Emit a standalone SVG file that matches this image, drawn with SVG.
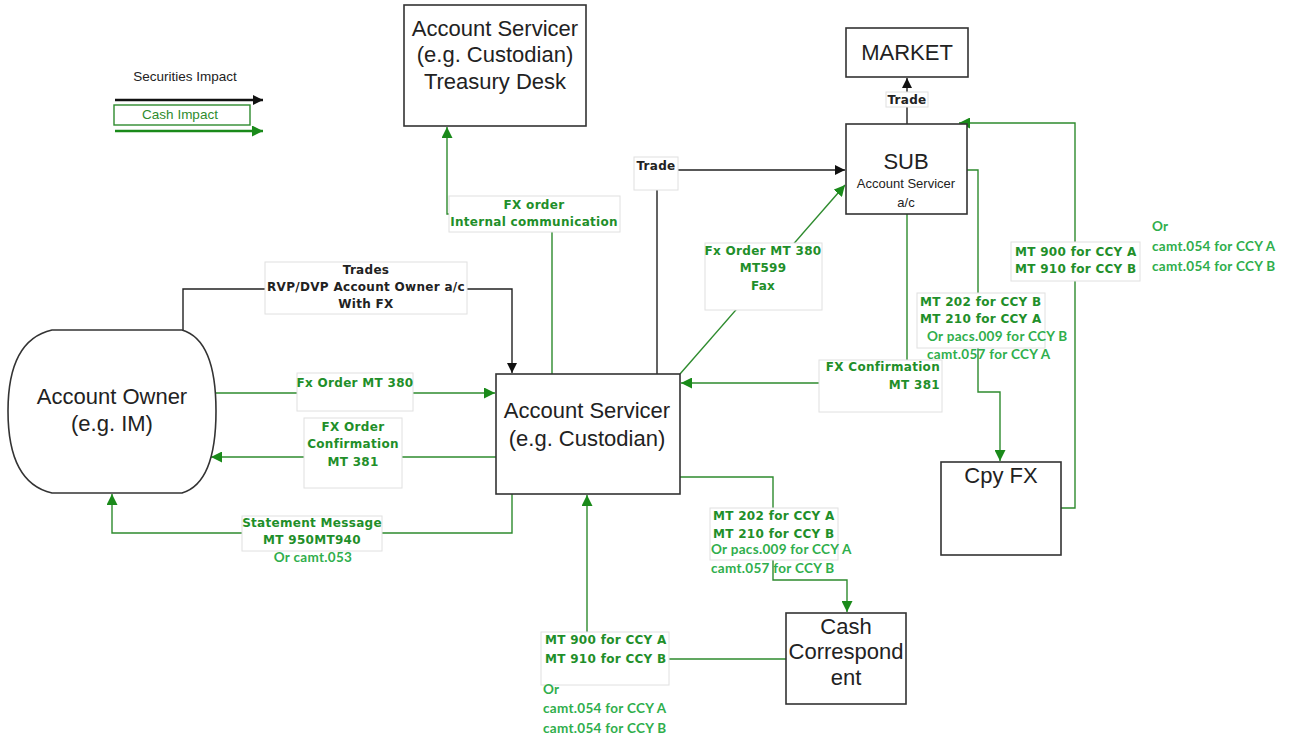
<svg xmlns="http://www.w3.org/2000/svg" width="1289" height="742" viewBox="0 0 1289 742">
  <style>
    .node { fill: #fff; stroke: #333; stroke-width: 1.6; }
    .big { font-family: "Liberation Sans", Arial, sans-serif; font-size: 22px; fill: #222; text-anchor: middle; }
    .sec { fill: none; stroke: #222; stroke-width: 1.4; }
    .cash { fill: none; stroke: #2e8b2e; stroke-width: 1.4; }
    .lbox { fill: #fff; stroke: #e0e0e0; stroke-width: 1; }
    .lb { font-family: "DejaVu Sans", Verdana, sans-serif; font-size: 12px; font-weight: bold; letter-spacing: 0.3px; text-anchor: middle; }
    .lb.st { text-anchor: start; }
    .lb.en { text-anchor: end; }
    .lk { fill: #222; }
    .lg { fill: #1f8f2a; }
    .alt { font-family: Lato, "Liberation Sans", sans-serif; font-size: 13.5px; font-weight: bold; letter-spacing: 0.3px; fill: #2fae4c; }
    .leg { font-family: "Liberation Sans", Arial, sans-serif; font-size: 13.5px; text-anchor: middle; }
  </style>
  <defs>
    <marker id="ak" viewBox="0 0 10 10" refX="10" refY="5" markerWidth="10" markerHeight="10" markerUnits="userSpaceOnUse" orient="auto">
      <path d="M0,0 L10,5 L0,10 Z" fill="#111"/>
    </marker>
    <marker id="ag" viewBox="0 0 10 10" refX="10" refY="5" markerWidth="11" markerHeight="11" markerUnits="userSpaceOnUse" orient="auto">
      <path d="M0,0 L10,5 L0,10 Z" fill="#1a8a1a"/>
    </marker>
  </defs>
  <rect width="1289" height="742" fill="#fff"/>

  <!-- legend -->
  <g id="legend">
    <text class="leg" x="185" y="81" fill="#222">Securities Impact</text>
    <line x1="115" y1="100" x2="263" y2="100" stroke="#111" stroke-width="2.5" marker-end="url(#ak)"/>
    <rect x="114" y="105" width="136" height="20" fill="#fff" stroke="#2e8b2e" stroke-width="1.4"/>
    <text class="leg" x="180" y="119" fill="#2e8b2e">Cash Impact</text>
    <line x1="115" y1="131" x2="263" y2="131" stroke="#1a8a1a" stroke-width="2.5" marker-end="url(#ag)"/>
  </g>

  <!-- connectors -->
  <g id="connectors">
    <path class="sec" d="M183,330 V289 H512 V373" marker-end="url(#ak)"/>
    <path class="cash" d="M216,393 H495" marker-end="url(#ag)"/>
    <path class="cash" d="M496,457 H211" marker-end="url(#ag)"/>
    <path class="cash" d="M512,494 V533 H112 V494" marker-end="url(#ag)"/>
    <path class="cash" d="M552,374 V214 H447 V127" marker-end="url(#ag)"/>
    <path class="sec" d="M657,374 V170 H845" marker-end="url(#ak)"/>
    <path class="cash" d="M680,374 L845,185" marker-end="url(#ag)"/>
    <path class="sec" d="M907,124 V78" marker-end="url(#ak)"/>
    <path class="cash" d="M907,214 V383 H681" marker-end="url(#ag)"/>
    <path class="cash" d="M967,170 H978 V392 H1000 V461" marker-end="url(#ag)"/>
    <path class="cash" d="M1061,508 H1075 V123 H959" marker-end="url(#ag)"/>
    <path class="cash" d="M680,477 H773 V580 H847 V612" marker-end="url(#ag)"/>
    <path class="cash" d="M786,659 H669 M587,632 V495" marker-end="url(#ag)"/>
  </g>

  <!-- connector labels -->
  <g id="labels">
    <rect class="lbox" x="265" y="262" width="202" height="52"/>
    <text class="lb lk" x="366" y="274">Trades</text>
    <text class="lb lk" x="366" y="291">RVP/DVP Account Owner a/c</text>
    <text class="lb lk" x="366" y="308">With FX</text>

    <rect class="lbox" x="297" y="373" width="116" height="38"/>
    <text class="lb lg" x="355" y="387">Fx Order MT 380</text>

    <rect class="lbox" x="304" y="418" width="98" height="70"/>
    <text class="lb lg" x="353" y="431">FX Order</text>
    <text class="lb lg" x="353" y="448">Confirmation</text>
    <text class="lb lg" x="353" y="466">MT 381</text>

    <rect class="lbox" x="242" y="516" width="140" height="35"/>
    <text class="lb lg" x="312" y="527">Statement Message</text>
    <text class="lb lg" x="312" y="544">MT 950MT940</text>
    <text class="alt" x="313" y="562" text-anchor="middle">Or camt.053</text>

    <rect class="lbox" x="449" y="196" width="171" height="36"/>
    <text class="lb lg" x="534" y="209">FX order</text>
    <text class="lb lg" x="534" y="226">Internal communication</text>

    <rect class="lbox" x="634" y="157" width="44" height="33"/>
    <text class="lb lk" x="656" y="170">Trade</text>

    <rect class="lbox" x="705" y="243" width="117" height="67"/>
    <text class="lb lg" x="763" y="255">Fx Order MT 380</text>
    <text class="lb lg" x="763" y="272">MT599</text>
    <text class="lb lg" x="763" y="290">Fax</text>

    <rect class="lbox" x="886" y="92" width="42" height="15"/>
    <text class="lb lk" x="907" y="104">Trade</text>

    <rect class="lbox" x="819" y="360" width="123" height="52"/>
    <text class="lb lg en" x="940" y="371">FX  Confirmation</text>
    <text class="lb lg en" x="940" y="389">MT 381</text>

    <rect class="lbox" x="917" y="293" width="128" height="55"/>
    <text class="lb lg st" x="920" y="306">MT 202 for CCY B</text>
    <text class="lb lg st" x="920" y="323">MT 210 for CCY A</text>
    <text class="alt" x="927" y="341">Or pacs.009 for CCY B</text>
    <text class="alt" x="927" y="359">camt.057 for CCY A</text>

    <rect class="lbox" x="1011" y="242" width="129" height="39"/>
    <text class="lb lg st" x="1015" y="256">MT 900 for CCY A</text>
    <text class="lb lg st" x="1015" y="273">MT 910 for CCY B</text>
    <text class="alt" x="1152" y="231">Or</text>
    <text class="alt" x="1152" y="251">camt.054 for CCY A</text>
    <text class="alt" x="1152" y="271">camt.054 for CCY B</text>

    <rect class="lbox" x="710" y="508" width="128" height="52"/>
    <text class="lb lg st" x="713" y="520">MT 202 for CCY A</text>
    <text class="lb lg st" x="713" y="538">MT 210 for CCY B</text>
    <text class="alt" x="711" y="554">Or pacs.009 for CCY A</text>
    <text class="alt" x="711" y="573">camt.057 for CCY B</text>

    <rect class="lbox" x="541" y="632" width="128" height="53"/>
    <text class="lb lg st" x="545" y="644">MT 900 for CCY A</text>
    <text class="lb lg st" x="545" y="663">MT 910 for CCY B</text>
    <text class="alt" x="543" y="694">Or</text>
    <text class="alt" x="543" y="713">camt.054 for CCY A</text>
    <text class="alt" x="543" y="733">camt.054 for CCY B</text>
  </g>

  <!-- nodes -->
  <g id="treasury-desk">
    <rect class="node" x="404" y="5" width="182" height="121"/>
    <text class="big" x="495" y="36">Account Servicer</text>
    <text class="big" x="495" y="62">(e.g. Custodian)</text>
    <text class="big" x="495" y="89">Treasury Desk</text>
  </g>
  <g id="market">
    <rect class="node" x="846" y="28" width="122" height="49"/>
    <text class="big" x="907" y="60">MARKET</text>
  </g>
  <g id="sub">
    <rect class="node" x="846" y="124" width="121" height="90"/>
    <text class="big" x="906" y="169" font-size="23">SUB</text>
    <text x="906" y="188" font-family="Liberation Sans, Arial, sans-serif" font-size="13" fill="#222" text-anchor="middle">Account Servicer</text>
    <text x="906" y="207" font-family="Liberation Sans, Arial, sans-serif" font-size="13" fill="#222" text-anchor="middle">a/c</text>
  </g>
  <g id="account-owner">
    <path class="node" d="M52,330 H182 Q216,340 216,411 Q216,483 182,493 H52 Q8,483 8,411 Q8,340 52,330 Z"/>
    <text class="big" x="112" y="404">Account Owner</text>
    <text class="big" x="112" y="431">(e.g. IM)</text>
  </g>
  <g id="account-servicer">
    <rect class="node" x="496" y="374" width="184" height="120"/>
    <text class="big" x="587" y="418">Account Servicer</text>
    <text class="big" x="587" y="446">(e.g. Custodian)</text>
  </g>
  <g id="cpy-fx">
    <rect class="node" x="941" y="462" width="120" height="93"/>
    <text class="big" x="1001" y="483">Cpy FX</text>
  </g>
  <g id="cash-correspondent">
    <rect class="node" x="786" y="613" width="120" height="91"/>
    <text class="big" x="846" y="634">Cash</text>
    <text class="big" x="846" y="659">Correspond</text>
    <text class="big" x="846" y="685">ent</text>
  </g>
</svg>
